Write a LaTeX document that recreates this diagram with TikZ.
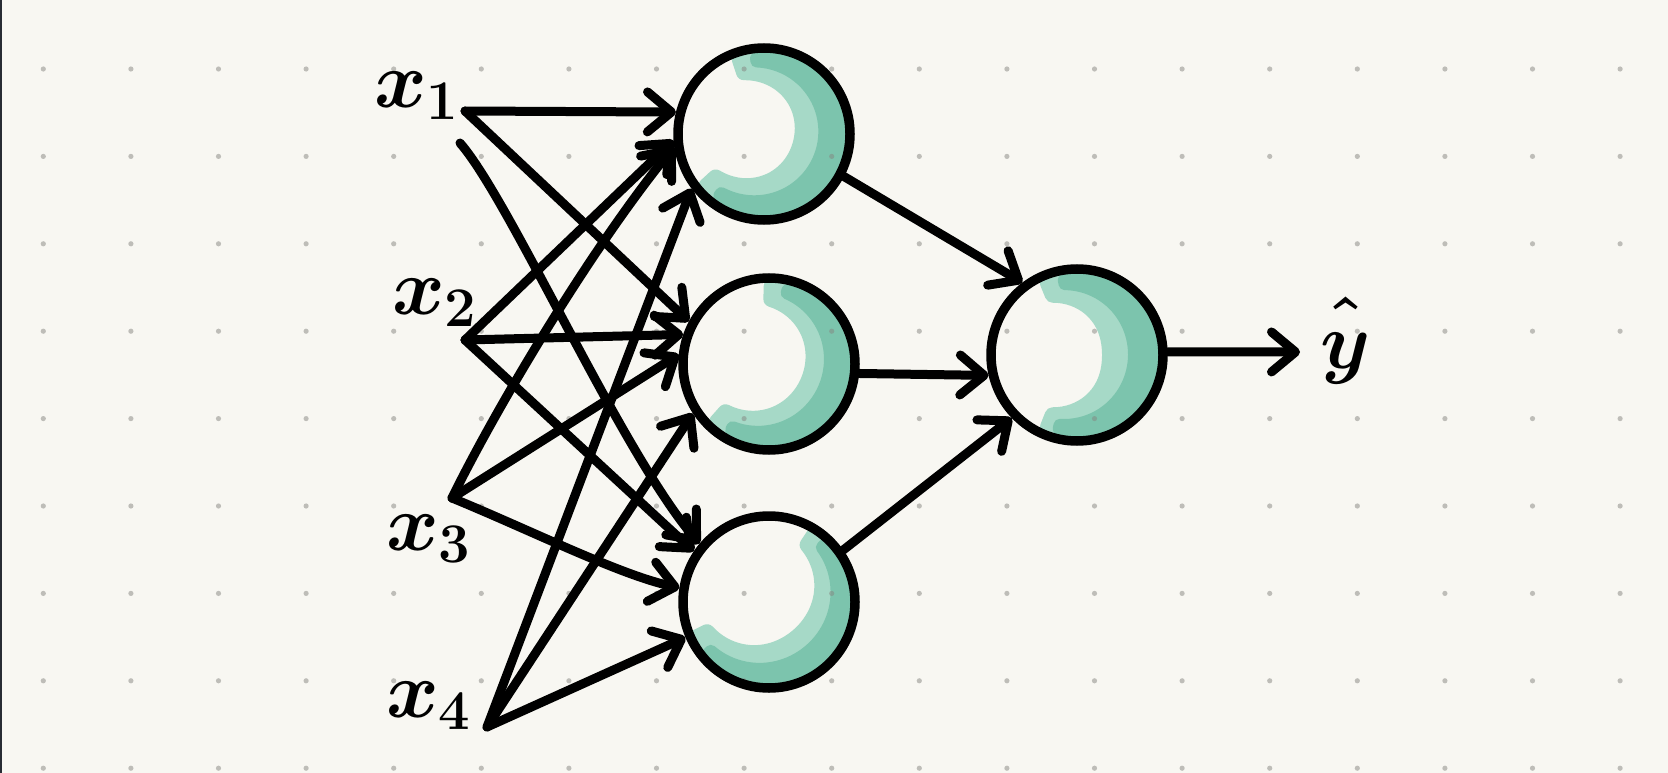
\RequirePackage{fix-cm}
\documentclass[tikz,border=0pt]{standalone}
\usetikzlibrary{arrows.meta}

\definecolor{paper}{RGB}{248,247,242}
\definecolor{edge}{RGB}{40,44,52}
\definecolor{inkdot}{RGB}{133,133,128}
\definecolor{washlight}{RGB}{166,217,199}
\definecolor{washdark}{RGB}{124,196,173}

% watercolour band inside a neuron:
% #1,#2 centre, #3..#4 start/end angle, #5 outer radius,
% #6 base width, #7 extra width at the middle, #8 brush width, #9 colour
\newcommand\washband[9]{%
  \filldraw[fill=#9, draw=#9, line width=#8, line join=round]
    plot[domain=0:1, samples=50, variable=\pp]
      ({#1+(#5)*cos((#3)+((#4)-(#3))*\pp)}, {#2-(#5)*sin((#3)+((#4)-(#3))*\pp)})
    -- plot[domain=0:1, samples=50, variable=\pp]
      ({#1+((#5)-(#6)-(#7)*sin(180*\pp))*cos((#4)+((#3)-(#4))*\pp)},
       {#2-((#5)-(#6)-(#7)*sin(180*\pp))*sin((#4)+((#3)-(#4))*\pp)})
    -- cycle;}

\begin{document}
\begin{tikzpicture}[x=1pt, y=-1pt,
  neuron/.style={circle, draw=black, line width=9.5pt, minimum size=172pt, inner sep=0pt},
  wire/.style={line width=9pt, line cap=round, line join=round,
               -{Straight Barb[length=24pt, width=40pt, round]}},
  lbl/.style={font=\fontsize{80}{80}\selectfont\boldmath, inner sep=0pt, anchor=base west},
]
% paper
\fill[paper] (0,0) rectangle (1668,773);
\useasboundingbox (0,0) rectangle (1668,773);
\fill[edge] (0,0) rectangle (1.6,773);

% watercolour shading of the neurons
\washband{764}{134}{108}{-138}{78}{13}{27}{16pt}{washlight}
\washband{764}{134}{96}{-126}{76}{3}{13}{12pt}{washdark}
\washband{769}{364}{88}{-132}{78}{13}{22}{16pt}{washlight}
\washband{769}{364}{76}{-120}{76}{3}{13}{12pt}{washdark}
\washband{769}{602}{56}{-154}{80}{11}{24}{16pt}{washlight}
\washband{769}{602}{46}{-140}{79}{3}{13}{12pt}{washdark}
\washband{1077}{355}{112}{-112}{78}{13}{32}{16pt}{washlight}
\washband{1077}{355}{100}{-104}{76}{4}{15}{12pt}{washdark}

% dot grid
\foreach \i in {0,...,18}
  \foreach \j in {0,...,8}
    \fill[inkdot, opacity=.5] ({43.3+87.6*\i},{69+87.4*\j}) circle[radius=2.6];

% neurons
\node[neuron] (h1) at (764,134) {};
\node[neuron] (h2) at (769,364) {};
\node[neuron] (h3) at (769,602) {};
\node[neuron] (o)  at (1077,355) {};

% inputs and output end
\coordinate (i1a) at (465,111);
\coordinate (i1b) at (460,143);
\coordinate (i2)  at (465,340);
\coordinate (i3)  at (452,498);
\coordinate (i4)  at (487,727);
\coordinate (yout) at (1300,352);

% labels
\node[lbl] (l1) at (374,108) {$x_1$};
\node[lbl] (l2) at (392,314) {$x_2$};
\node[lbl] (l3) at (386,550) {$x_3$};
\node[lbl] (l4) at (386,717) {$x_4$};
\node[lbl, anchor=base] (ly) at (1346,368) {$\hat{\vphantom{t}y}$};

% input -> hidden
\draw[wire] (i1a) -- (h1.166);
\draw[wire] (i1a) -- (h2.152);
\draw[wire] (i1b) .. controls (510,200) and (620,450) .. (h3.140);
\draw[wire] (i2) -- (h1.184);
\draw[wire] (i2) -- (h2.161);
\draw[wire] (i2) -- (h3.146);
\draw[wire] (i3) .. controls (495,410) and (590,250) .. (h1.188);
\draw[wire] (i3) -- (h2.174);
\draw[wire] (i3) .. controls (530,530) and (620,575) .. (h3.171);
\draw[wire] (i4) -- (h1.217);
\draw[wire] (i4) -- (h2.213);
\draw[wire] (i4) -- (h3.203);

% hidden -> output
\draw[wire] (h1.-28) -- (o.127);
\draw[wire] (h2.-6)  -- (o.193);
\draw[wire] (h3.35)  -- (o.224);
\draw[wire] (o.2) -- (yout);
\end{tikzpicture}
\end{document}
